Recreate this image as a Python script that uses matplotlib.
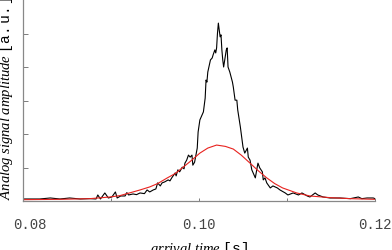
import matplotlib
matplotlib.use("Agg")
import matplotlib.pyplot as plt
import matplotlib.transforms as mtransforms

t_signal = [0.0800, 0.0819, 0.0831, 0.0842, 0.0853, 0.0865, 0.0876, 0.0883, 0.0885, 0.0888,
            0.0893, 0.0897, 0.0901, 0.0905, 0.0907, 0.0911, 0.0916, 0.0918, 0.0920, 0.0925,
            0.0929, 0.0933, 0.0938, 0.0941, 0.0944, 0.0948, 0.0951, 0.0953, 0.0956, 0.0958,
            0.0961, 0.0965, 0.0967, 0.0969, 0.0973, 0.0974, 0.0976, 0.0978, 0.0981, 0.0983,
            0.0984, 0.0986, 0.0988, 0.0990, 0.0992, 0.0993, 0.0995, 0.0998, 0.0999, 0.1001,
            0.1003, 0.1005, 0.1007, 0.1008, 0.1009, 0.1010, 0.1013, 0.1015, 0.1016, 0.1018,
            0.1019, 0.1020, 0.1021, 0.1022, 0.1023, 0.1024, 0.1025, 0.1026, 0.1027, 0.1028,
            0.1031, 0.1032, 0.1033, 0.1035, 0.1038, 0.1039, 0.1041, 0.1043, 0.1044, 0.1047,
            0.1050, 0.1052, 0.1055, 0.1056, 0.1058, 0.1060, 0.1064, 0.1066, 0.1067, 0.1069,
            0.1072, 0.1073, 0.1075, 0.1077, 0.1081, 0.1084, 0.1089, 0.1092, 0.1098, 0.1101,
            0.1107, 0.1113, 0.1117, 0.1123, 0.1126, 0.1132, 0.1135, 0.1141, 0.1149, 0.1160,
            0.1172, 0.1181, 0.1185, 0.1191, 0.1198, 0.1200]
amp_signal = [0.06, 0.06, 0.09, 0.06, 0.09, 0.06, 0.07, 0.06, 0.18, 0.06,
              0.24, 0.09, 0.12, 0.27, 0.09, 0.15, 0.15, 0.25, 0.18, 0.21,
              0.19, 0.24, 0.22, 0.33, 0.27, 0.33, 0.36, 0.54, 0.45, 0.54,
              0.57, 0.63, 0.60, 0.69, 0.84, 0.75, 0.93, 0.87, 1.01, 0.96,
              1.13, 1.22, 1.37, 1.31, 1.37, 1.07, 1.16, 1.58, 2.06, 2.42,
              2.54, 2.66, 3.07, 3.61, 3.55, 3.85, 4.21, 4.27, 4.36, 4.51,
              4.42, 4.57, 5.01, 5.31, 5.10, 4.90, 4.96, 4.51, 4.21, 4.00,
              4.51, 4.57, 4.00, 3.85, 3.55, 3.40, 3.01, 3.01, 2.72, 2.21,
              1.61, 1.43, 1.58, 1.31, 1.22, 0.93, 0.69, 0.99, 1.13, 0.99,
              0.87, 0.63, 0.69, 0.54, 0.39, 0.45, 0.39, 0.33, 0.24, 0.18,
              0.24, 0.18, 0.24, 0.15, 0.12, 0.24, 0.18, 0.12, 0.09, 0.09,
              0.07, 0.12, 0.07, 0.09, 0.09, 0.07]

# fitted curve (red)
t_fit = [0.0800, 0.0842, 0.0876, 0.0899, 0.0910, 0.0925, 0.0933, 0.0944, 0.0953, 0.0964,
         0.0973, 0.0982, 0.0990, 0.1001, 0.1010, 0.1020, 0.1030, 0.1039, 0.1048, 0.1058,
         0.1067, 0.1077, 0.1086, 0.1095, 0.1111, 0.1126, 0.1149, 0.1172, 0.1200]
amp_fit = [0.04, 0.05, 0.07, 0.12, 0.16, 0.27, 0.33, 0.42, 0.52, 0.69,
           0.82, 1.01, 1.18, 1.43, 1.58, 1.67, 1.63, 1.55, 1.37, 1.13,
           0.91, 0.69, 0.52, 0.39, 0.24, 0.15, 0.10, 0.07, 0.05]

x_ticks = [0.08, 0.10, 0.12]
x_tick_labels = ["0.08", "0.10", "0.12"]
x_minor = [0.09, 0.11]
y_ticks = [1, 2, 3, 4, 5]

plt.rcParams["mathtext.fontset"] = "custom"
plt.rcParams["mathtext.it"] = "Liberation Serif:italic"
plt.rcParams["mathtext.rm"] = "Liberation Serif"
plt.rcParams["mathtext.tt"] = "Liberation Mono"

fig = plt.figure(figsize=(3.92, 2.5), dpi=100)
ax = fig.add_axes([23 / 392, 1 - 201 / 250, 352 / 392, 201 / 250])

ax.plot(t_signal, amp_signal, color="black", linewidth=0.8)
ax.plot(t_fit, amp_fit, color="#e8221e", linewidth=0.8)

ax.set_xlim(0.08, 0.12)
ax.set_ylim(0, 6)

for side in ["top", "right"]:
    ax.spines[side].set_visible(False)
for side in ["left", "bottom"]:
    ax.spines[side].set_color("#888888")
    ax.spines[side].set_linewidth(0.9)

ax.set_xticks(x_ticks)
ax.set_xticklabels(x_tick_labels, fontfamily="Liberation Mono", fontsize=10, color="#444444")
ax.set_xticks(x_minor, minor=True)
ax.set_yticks(y_ticks)
ax.set_yticklabels([])
ax.tick_params(axis="x", which="both", direction="in", length=2.5, width=0.6,
               color="#666666", pad=12)
ax.tick_params(axis="y", direction="in", length=3.5, width=0.6, color="#666666")

# first tick label sits a bit right of its tick in the original
lbl = ax.get_xticklabels()[0]
lbl.set_transform(lbl.get_transform() + mtransforms.ScaledTranslation(7 / 100, 0, fig.dpi_scale_trans))

fig.text(199 / 392, 1 - 240 / 250, r"$\mathit{arrival\ time}\ \mathtt{[s]}$",
         ha="center", va="top", fontsize=10.5)
fig.text(6 / 392, 1 - 98 / 250, r"$\mathit{Analog\ signal\ amplitude}\ \mathtt{[a.u.]}$",
         ha="center", va="center", rotation=90, fontsize=10.5)

fig.savefig("out.png", dpi=100)
